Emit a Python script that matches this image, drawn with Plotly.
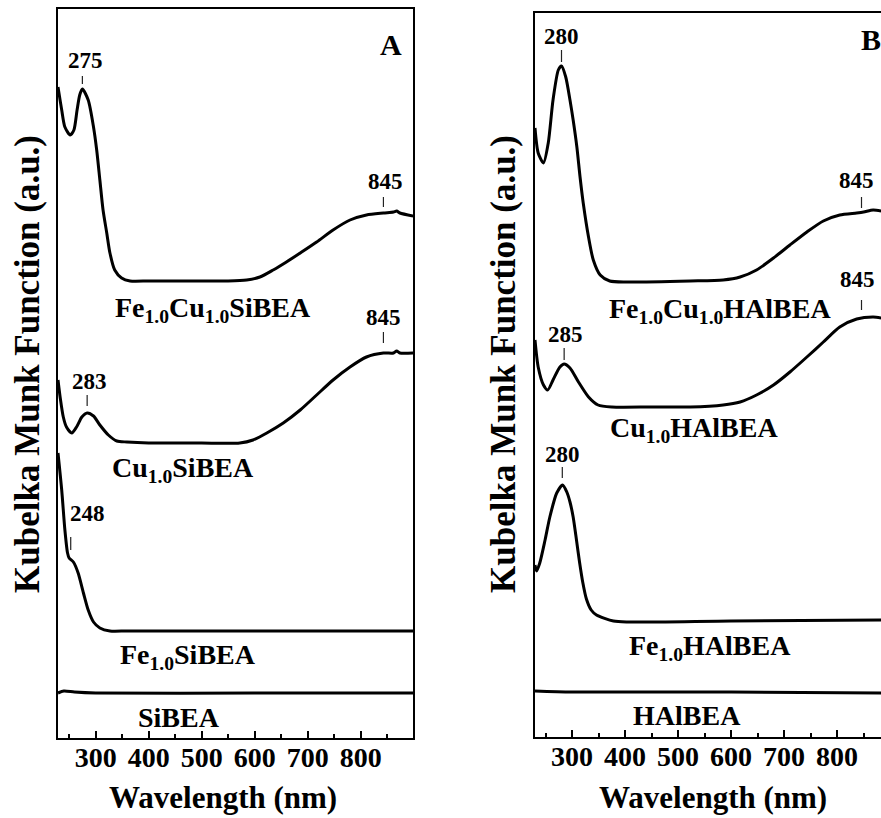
import plotly.graph_objects as go

# ---------------- data (wavelength nm, Kubelka-Munk a.u.) ----------------
# Panel A
wl_fecu_si = [229, 236, 242, 252, 259, 265, 270, 275, 286, 296, 302, 308, 314, 321, 327, 336, 349, 365,
              400, 450, 500, 550, 585, 610, 635, 660, 686, 717, 748, 780, 811, 843, 862, 868, 874, 899]
km_fecu_si = [65.1, 62.8, 61.1, 60.3, 60.8, 62.8, 64.3, 64.9, 63.8, 61.1, 58.8, 55.8, 52.8, 50.5, 48.5, 46.8, 46.0, 45.7,
              45.7, 45.7, 45.7, 45.7, 45.8, 46.1, 46.8, 47.6, 48.5, 49.6, 50.8, 51.8, 52.3, 52.5, 52.6, 52.7, 52.5, 52.2]

wl_cu_si = [229, 233, 239, 245, 255, 264, 274, 284, 296, 308, 324, 340, 359, 400, 450, 500, 572, 597,
            623, 654, 686, 717, 748, 780, 811, 843, 862, 868, 874, 899]
km_cu_si = [35.8, 34.1, 32.1, 31.1, 30.5, 31.1, 32.1, 32.5, 32.2, 31.3, 30.3, 29.7, 29.6, 29.5, 29.5, 29.5, 29.5, 29.8,
            30.5, 31.5, 32.8, 34.3, 35.8, 37.1, 38.1, 38.5, 38.5, 38.7, 38.5, 38.5]

wl_fe_si = [229, 236, 242, 247, 250, 258, 267, 277, 286, 296, 308, 327, 359, 450, 600, 750, 899]
km_fe_si = [28.5, 24.8, 20.8, 18.5, 18.0, 17.6, 16.5, 14.5, 12.8, 11.6, 11.0, 10.7, 10.7, 10.7, 10.7, 10.7, 10.7]

wl_si = [229, 240, 260, 300, 600, 899]
km_si = [4.5, 4.7, 4.6, 4.5, 4.5, 4.5]

# Panel B
wl_fecu_hal = [230, 236, 246, 255, 264, 274, 280, 288, 296, 302, 309, 315, 321, 331, 340, 353, 371, 403,
               523, 585, 617, 648, 680, 711, 743, 774, 805, 837, 850, 868, 883]
km_fecu_hal = [60.9, 58.4, 57.4, 59.4, 63.7, 66.7, 67.1, 66.0, 63.7, 61.7, 59.0, 56.0, 53.4, 50.0, 47.7, 46.2, 45.6, 45.5,
               45.6, 45.7, 46.0, 46.7, 47.9, 49.2, 50.5, 51.6, 52.2, 52.4, 52.5, 52.7, 52.6]

wl_cu_hal = [230, 236, 246, 254, 264, 277, 285, 296, 312, 331, 349, 375, 450, 523, 585, 617, 648, 680,
             711, 743, 774, 805, 837, 868, 883]
km_cu_hal = [39.7, 37.0, 35.2, 34.7, 35.7, 37.0, 37.3, 36.9, 35.5, 34.0, 33.2, 33.0, 33.0, 33.0, 33.2, 33.5, 34.2, 35.2,
             36.5, 38.0, 39.5, 41.0, 41.8, 42.0, 41.9]

wl_fe_hal = [230, 233, 239, 249, 258, 271, 282, 290, 296, 302, 308, 314, 320, 327, 336, 346, 378, 403, 600, 883]
km_fe_hal = [17.2, 16.6, 17.4, 19.7, 22.0, 24.4, 25.2, 24.5, 23.5, 22.0, 19.8, 17.5, 15.5, 13.8, 12.7, 12.2, 11.6, 11.5, 11.6, 11.7]

wl_hal = [230, 300, 600, 883]
km_hal = [4.6, 4.5, 4.5, 4.4]

# sample names and their label anchor (nm, a.u.)
names_a = ["Fe<sub>1.0</sub>Cu<sub>1.0</sub>SiBEA", "Cu<sub>1.0</sub>SiBEA", "Fe<sub>1.0</sub>SiBEA", "SiBEA"]
name_pos_a = [(333, 42.9), (327, 26.9), (342, 8.2), (376, 2.1)]
names_b = ["Fe<sub>1.0</sub>Cu<sub>1.0</sub>HAlBEA", "Cu<sub>1.0</sub>HAlBEA", "Fe<sub>1.0</sub>HAlBEA", "HAlBEA"]
name_pos_b = [(365, 42.7), (368, 30.8), (403, 9.0), (412, 2.2)]

# peak marks: (label, wavelength of mark, curve value under mark)
peaks_a = [("275", 275, 64.9), ("845", 843, 52.5), ("845", 843, 38.5), ("283", 284, 32.5), ("248", 253, 18.0)]
peaks_b = [("280", 280, 67.1), ("845", 846, 52.4), ("845", 846, 41.7), ("285", 285, 37.3), ("280", 281.5, 25.2)]
# layout of peak marks (pixels): tick bottom, tick top, text offset, text x shift
peak_style_a = [(5, 13, 29, 3), (6, 16, 32, 2), (10, 21, 36, 0), (7, 18, 32, 2), (8, 21, 45, 17)]
peak_style_b = [(4, 16, 30, 0), (5, 16, 33, -5), (10, 20, 41, -4), (4, 16, 30, 1), (7, 18, 31, 0)]

x_ticks = [300, 400, 500, 600, 700, 800]

FONT = "Liberation Serif, Times New Roman, serif"
W, H = 881, 818
ML, MR, MT, MB = 58, 0, 9, 80

fig = go.Figure()
line = dict(color="black", width=3)
for wl, km in [(wl_fecu_si, km_fecu_si), (wl_cu_si, km_cu_si), (wl_fe_si, km_fe_si), (wl_si, km_si)]:
    fig.add_trace(go.Scatter(x=wl, y=km, mode="lines", line=dict(line, shape="spline", smoothing=0.7),
                             xaxis="x", yaxis="y", showlegend=False, hoverinfo="skip"))
for wl, km in [(wl_fecu_hal, km_fecu_hal), (wl_cu_hal, km_cu_hal), (wl_fe_hal, km_fe_hal), (wl_hal, km_hal)]:
    fig.add_trace(go.Scatter(x=wl, y=km, mode="lines", line=dict(line, shape="spline", smoothing=0.7),
                             xaxis="x2", yaxis="y2", showlegend=False, hoverinfo="skip"))

pw = W - ML - MR
ph = H - MT - MB

def label_axis(domain, rng, anchor):
    # carries the tick labels only
    return dict(domain=domain, range=rng, anchor=anchor, showline=False, ticks="",
                tickvals=x_ticks, ticktext=[str(t) for t in x_ticks],
                tickfont=dict(family=FONT, size=28, color="black", weight="bold"),
                showgrid=False, zeroline=False, fixedrange=True)

def frame_axis(base, anchor, rng):
    # draws the frame line and the inward ticks
    return dict(overlaying=base, anchor=anchor, range=rng, side="bottom",
                showline=True, linecolor="black", linewidth=2, mirror=True,
                ticks="inside", ticklen=7, tickwidth=2, tickcolor="black", tickvals=x_ticks,
                showticklabels=False,
                minor=dict(ticks="inside", ticklen=4, tickwidth=2, tickcolor="black", dtick=50, tick0=0),
                showgrid=False, zeroline=False, fixedrange=True)

rng_a = [229, 898.8]
rng_b = [230, 882.8]
fig.update_layout(
    width=W, height=H, margin=dict(l=ML, r=MR, t=MT, b=MB),
    paper_bgcolor="white", plot_bgcolor="white",
    xaxis=label_axis([0, 355 / pw], rng_a, "y"),
    xaxis2=label_axis([477 / pw, 1], rng_b, "y2"),
    xaxis3=frame_axis("x", "y", rng_a),
    xaxis4=frame_axis("x2", "y2", rng_b),
    yaxis=dict(domain=[0, 1], range=[0, 72.9], showline=True, linecolor="black", linewidth=2, mirror=True,
               showticklabels=False, ticks="", showgrid=False, zeroline=False, anchor="x", fixedrange=True),
    yaxis2=dict(domain=[1 / ph, 1 - 4 / ph], range=[0, 72.4], showline=True, linecolor="black", linewidth=2,
                mirror=False, showticklabels=False, ticks="", showgrid=False, zeroline=False, anchor="x2",
                fixedrange=True),
    showlegend=False,
)
# invisible helpers so the overlay axes are drawn
fig.add_trace(go.Scatter(x=[rng_a[0]], y=[None], xaxis="x3", yaxis="y", showlegend=False, hoverinfo="skip"))
fig.add_trace(go.Scatter(x=[rng_b[0]], y=[None], xaxis="x4", yaxis="y2", showlegend=False, hoverinfo="skip"))

ann = []
shapes = []
bold = dict(family=FONT, color="black", weight="bold")

for (txt, (x, y)) in zip(names_a, name_pos_a):
    ann.append(dict(x=x, y=y, xref="x", yref="y", text=txt, showarrow=False, xanchor="left", yanchor="middle",
                    font=dict(bold, size=28)))
for (txt, (x, y)) in zip(names_b, name_pos_b):
    ann.append(dict(x=x, y=y, xref="x2", yref="y2", text=txt, showarrow=False, xanchor="left", yanchor="middle",
                    font=dict(bold, size=28)))

for axes, peaks, styles in [(("x", "y"), peaks_a, peak_style_a), (("x2", "y2"), peaks_b, peak_style_b)]:
    for (lab, xv, yv), (t0, t1, dy, dx) in zip(peaks, styles):
        shapes.append(dict(type="line", xref=axes[0], yref=axes[1], x0=xv, x1=xv, ysizemode="pixel",
                           yanchor=yv, y0=t0, y1=t1, line=dict(color="#222", width=1.2)))
        ann.append(dict(x=xv, y=yv, xref=axes[0], yref=axes[1], text=lab, showarrow=False,
                        xanchor="center", yanchor="middle", yshift=dy, xshift=dx,
                        font=dict(bold, size=23)))

# panel letters
ann.append(dict(x=857, y=69.35, xref="x", yref="y", text="A", showarrow=False, xanchor="center", yanchor="middle",
                font=dict(bold, size=30)))
ann.append(dict(x=841, y=69.8, xref="x2", yref="y2", text="B", showarrow=False, xanchor="left", yanchor="middle",
                font=dict(bold, size=30)))

# axis titles
for xp in [(27 - ML) / pw, (503 - ML) / pw]:
    ann.append(dict(x=xp, y=(738 - 364) / ph, xref="paper", yref="paper", text="Kubelka Munk Function (a.u.)",
                    textangle=-90, showarrow=False, xanchor="center", yanchor="middle", font=dict(bold, size=35)))
for xp in [(223 - ML) / pw, (712.5 - ML) / pw]:
    ann.append(dict(x=xp, y=(738 - 797) / ph, xref="paper", yref="paper", text="Wavelength (nm)",
                    showarrow=False, xanchor="center", yanchor="middle", font=dict(bold, size=31)))

fig.update_layout(annotations=ann, shapes=shapes)
fig.write_html("out.html", config={"displayModeBar": False, "staticPlot": True},
               post_script="document.body.style.margin='0px';document.body.style.padding='0px';")
